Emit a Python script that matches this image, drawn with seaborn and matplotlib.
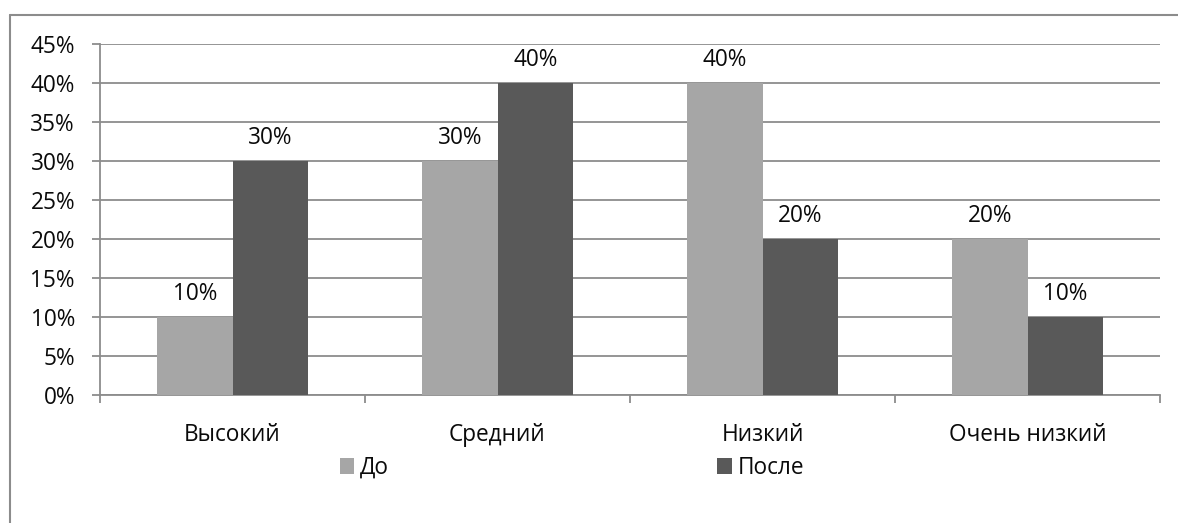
import matplotlib
matplotlib.use("Agg")
import matplotlib.pyplot as plt
import seaborn as sns
import pandas as pd
from matplotlib.lines import Line2D
from matplotlib.patches import Patch

categories = ["Высокий", "Средний", "Низкий", "Очень низкий"]
before = [10, 30, 40, 20]
after = [30, 40, 20, 10]
series_names = ["До", "После"]
colors = ["#A6A6A6", "#595959"]
yticks = [0, 5, 10, 15, 20, 25, 30, 35, 40, 45]

df = pd.DataFrame({
    "category": categories * 2,
    "value": before + after,
    "series": [series_names[0]] * len(categories) + [series_names[1]] * len(categories),
})

sns.set_theme(style="white")
plt.rcParams["font.family"] = ["Open Sans", "DejaVu Sans"]

W, H = 1178, 523
FS = 16.3
fig = plt.figure(figsize=(W / 100, H / 100), dpi=100)
ax = fig.add_axes([100 / W, 1 - 395 / H, 1060 / W, (395 - 44) / H])

grid_c = "#8C8C8C"
sns.barplot(data=df, x="category", y="value", hue="series", palette=colors,
            width=0.57, gap=0, saturation=1, ax=ax, legend=False,
            edgecolor="none", linewidth=0, zorder=3)

ax.set_xlim(-0.5, len(categories) - 0.5)
ax.set_ylim(0, 45)
ax.set_yticks(yticks)
ax.set_yticklabels([f"{t}%" for t in yticks])
ax.yaxis.grid(True, color=grid_c, linewidth=1.3, zorder=0)
ax.set_axisbelow(True)
ax.set_xlabel("")
ax.set_ylabel("")

for s in ["top", "right"]:
    ax.spines[s].set_visible(False)
for s in ["left", "bottom"]:
    ax.spines[s].set_color(grid_c)
    ax.spines[s].set_linewidth(1.3)

ax.tick_params(axis="y", which="major", length=6, width=1.3, color=grid_c,
               direction="out", left=True, pad=12, labelsize=FS, labelcolor="#0A0A0A")
ax.tick_params(axis="x", which="major", length=0, pad=20, labelsize=FS, labelcolor="#0A0A0A")
ax.set_xticks([i - 0.5 for i in range(len(categories) + 1)], minor=True)
ax.tick_params(axis="x", which="minor", length=6, width=1.3, color=grid_c,
               direction="out", bottom=True)

for cont in ax.containers:
    vals = [b.get_height() for b in cont]
    ax.bar_label(cont, labels=[f"{v:g}%" for v in vals], padding=8,
                 fontsize=FS, color="#0A0A0A")

handles = [Patch(facecolor=c, edgecolor="none", label=n) for c, n in zip(colors, series_names)]
fig.legend(handles=handles, loc="center", bbox_to_anchor=(572 / W, 1 - 468 / H),
           ncol=2, frameon=False, fontsize=FS, handlelength=0.65, handleheight=0.65,
           handletextpad=0.25, columnspacing=14.5, labelcolor="#0A0A0A")

# outer chart-area border (top and left edges visible)
fig.add_artist(Line2D([10 / W, 1.0], [1 - 15 / H, 1 - 15 / H], transform=fig.transFigure,
                      color="#8C8C8C", linewidth=1.5))
fig.add_artist(Line2D([10 / W, 10 / W], [0.0, 1 - 15 / H], transform=fig.transFigure,
                      color="#8C8C8C", linewidth=1.5))

fig.savefig("out.png", dpi=100, facecolor="white")
